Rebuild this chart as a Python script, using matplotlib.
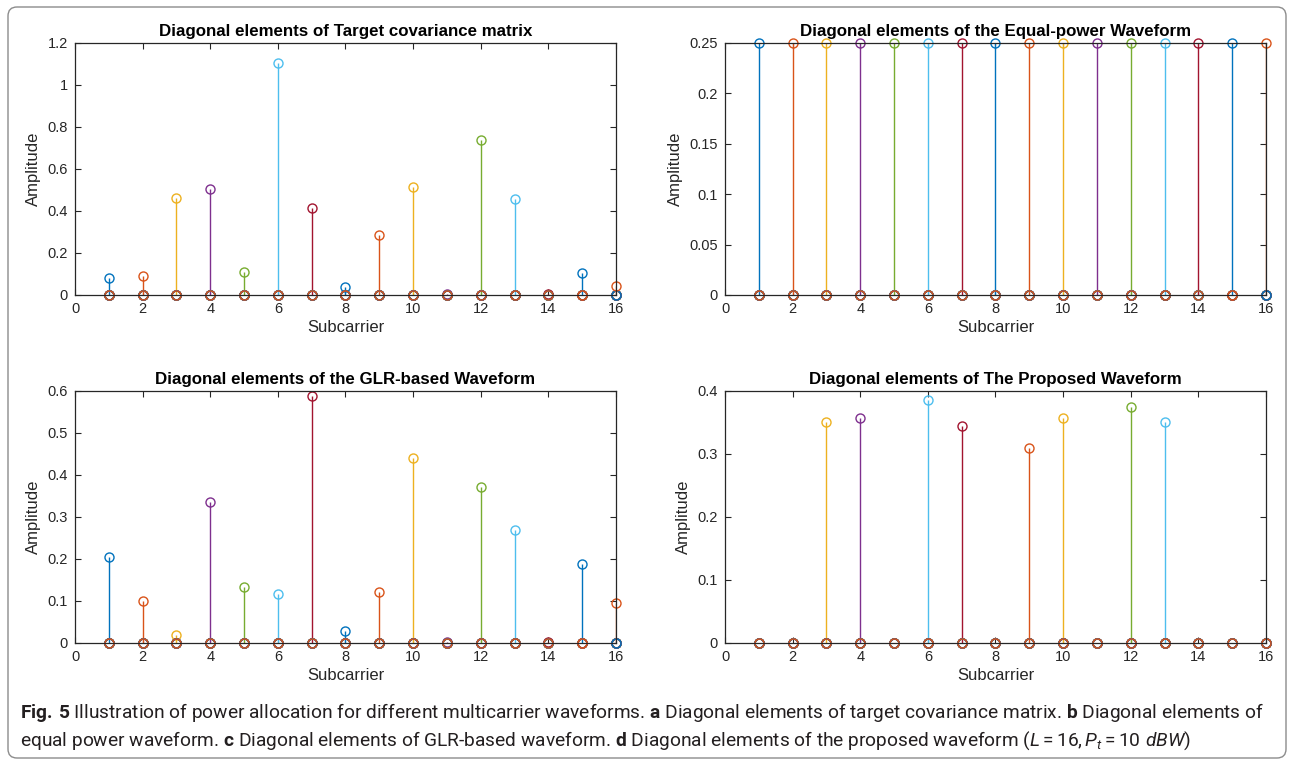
import numpy as np
import matplotlib
matplotlib.use("Agg")
import matplotlib.pyplot as plt
from matplotlib.patches import FancyBboxPatch
from matplotlib.ticker import FuncFormatter

plt.rcParams["font.family"] = ["Liberation Sans", "DejaVu Sans"]
plt.rcParams["mathtext.fontset"] = "custom"
plt.rcParams["mathtext.rm"] = "Roboto"
plt.rcParams["mathtext.it"] = "Roboto:italic"
plt.rcParams["mathtext.bf"] = "Roboto:bold"

# Data
subcarriers = np.arange(1, 17)
target_cov = [0.083, 0.089, 0.464, 0.507, 0.108, 1.103, 0.416, 0.037,
              0.288, 0.513, 0.006, 0.737, 0.455, 0.003, 0.106, 0.041]
equal_power = [0.25] * 16
glr_based = [0.204, 0.099, 0.018, 0.336, 0.133, 0.117, 0.588, 0.029,
             0.121, 0.440, 0.002, 0.371, 0.268, 0.002, 0.187, 0.095]
proposed = [0, 0, 0.351, 0.357, 0, 0.385, 0.344, 0,
            0.310, 0.357, 0, 0.374, 0.350, 0, 0, 0]

titles = ["Diagonal elements of Target covariance matrix",
          "Diagonal elements of the Equal-power Waveform",
          "Diagonal elements of the GLR-based Waveform",
          "Diagonal elements of The Proposed Waveform"]
ylims = [1.2, 0.25, 0.6, 0.4]
ytick_list = [np.arange(0, 1.21, 0.2), np.arange(0, 0.251, 0.05),
              np.arange(0, 0.61, 0.1), np.arange(0, 0.41, 0.1)]
xticks = np.arange(0, 17, 2)

# MATLAB default colour order
matlab_colors = ["#0072BD", "#D95319", "#EDB120", "#7E2F8E",
                 "#77AC30", "#4DBEEE", "#A2142F"]

caption1 = (r"$\mathbf{Fig.\,5}$ Illustration of power allocation for different multicarrier "
            r"waveforms. $\mathbf{a}$ Diagonal elements of target covariance matrix. "
            r"$\mathbf{b}$ Diagonal elements of")
caption2 = (r"equal power waveform. $\mathbf{c}$ Diagonal elements of GLR-based waveform. "
            r"$\mathbf{d}$ Diagonal elements of the proposed waveform ($L = 16, P_t = 10\ dBW$)")

axis_col = "#262626"

fig = plt.figure(figsize=(12.94, 7.65), dpi=100)

# frame and caption, in pixel coordinates
bg = fig.add_axes([0, 0, 1, 1])
bg.set_xlim(0, 1294)
bg.set_ylim(765, 0)
bg.axis("off")
bg.add_patch(FancyBboxPatch((8, 7), 1278, 751, boxstyle="round,pad=0,rounding_size=9",
                            fc="white", ec="#8c8c8c", lw=1))
bg.text(20, 713, caption1, va="center", ha="left", fontsize=13.8,
        family="Roboto", color="#231f20")
bg.text(20, 741, caption2, va="center", ha="left", fontsize=13.8,
        family="Roboto", color="#231f20")

positions = [[0.058, 0.6144, 0.418, 0.3294],
             [0.5603, 0.6144, 0.418, 0.3294],
             [0.058, 0.1595, 0.418, 0.3294],
             [0.5603, 0.1595, 0.418, 0.3294]]
datasets = [target_cov, equal_power, glr_based, proposed]

for pos, vals, title, ymax, yt in zip(positions, datasets, titles, ylims, ytick_list):
    ax = fig.add_axes(pos)
    # like MATLAB stem(diag(v)): one series per subcarrier
    for k in range(16):
        y = np.zeros(16)
        y[k] = vals[k]
        c = matlab_colors[k % 7]
        ml, sl, bl = ax.stem(subcarriers, y)
        bl.set_visible(False)
        sl.set_color(c)
        sl.set_linewidth(1)
        ml.set_color(c)
        ml.set_markerfacecolor("none")
        ml.set_markersize(6.5)
        ml.set_markeredgewidth(1)
        ml.set_clip_on(False)
    ax.set_xlim(0, 16)
    ax.set_ylim(0, ymax)
    ax.set_xticks(xticks)
    ax.set_yticks(yt)
    ax.yaxis.set_major_formatter(FuncFormatter(lambda v, p: f"{v:g}"))
    ax.tick_params(direction="in", top=True, right=True, length=4, width=0.8,
                   labelsize=10.5, colors=axis_col, pad=5)
    for sp in ax.spines.values():
        sp.set_color(axis_col)
        sp.set_linewidth(0.9)
    ax.set_title(title, fontsize=12.2, fontweight="bold", pad=5, color="black")
    ax.set_xlabel("Subcarrier", fontsize=12, color=axis_col, labelpad=3)
    ax.set_ylabel("Amplitude", fontsize=12, color=axis_col, labelpad=5)

fig.savefig("out.png", dpi=100)
